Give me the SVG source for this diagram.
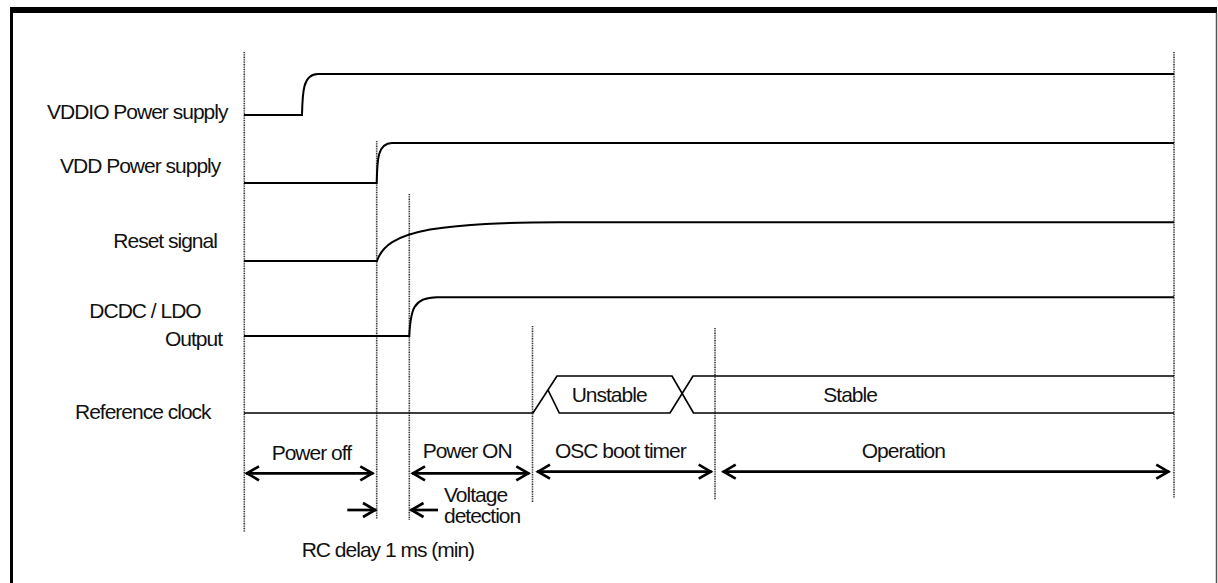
<svg xmlns="http://www.w3.org/2000/svg" width="1218" height="583" viewBox="0 0 1218 583">
<defs>
<marker id="ah" markerUnits="userSpaceOnUse" markerWidth="24" markerHeight="24" viewBox="-16 -12 20 24" refX="0" refY="0" orient="auto-start-reverse" overflow="visible">
<path d="M-13,-7 L-1,0 L-13,7" fill="none" stroke="#000" stroke-width="2.7" stroke-linejoin="miter"/>
</marker>
</defs>
<style>
text{font-family:"Liberation Sans",Arial,sans-serif;font-size:21px;letter-spacing:-1px;fill:#111}
.sig{fill:none;stroke:#000;stroke-width:2}
.clk{fill:none;stroke:#000;stroke-width:1.7}
.grid{stroke:#333;stroke-width:1.6;stroke-dasharray:1 0.7}
.arr{stroke:#000;stroke-width:2.7;fill:none}
</style>
<rect width="1218" height="583" fill="#fff"/>
<g id="frame">
<rect x="10" y="7" width="1207" height="6" fill="#000"/>
<rect x="10" y="7" width="3" height="576" fill="#000"/>
<line x1="1216.5" y1="13" x2="1216.5" y2="583" stroke="#555" stroke-width="1.5"/>
</g>
<g id="gridlines">
<line class="grid" x1="244.3" y1="52" x2="244.3" y2="532"/>
<line class="grid" x1="376.7" y1="141" x2="376.7" y2="519"/>
<line class="grid" x1="409.3" y1="194" x2="409.3" y2="520"/>
<line class="grid" x1="532.5" y1="326" x2="532.5" y2="502"/>
<line class="grid" x1="715" y1="328" x2="715" y2="500"/>
<line class="grid" x1="1174" y1="52" x2="1174" y2="498"/>
</g>
<g id="vddio">
<text x="47" y="119.3">VDDIO Power supply</text>
<path class="sig" d="M244,115 H302 C302.5,92 303,74 318,74 H1174"/>
</g>
<g id="vdd">
<text x="60" y="172.5">VDD Power supply</text>
<path class="sig" d="M244,183 H376.7 C377.2,160 377.5,143 392,143 H1174"/>
</g>
<g id="reset">
<text x="113.3" y="248.3">Reset signal</text>
<path class="sig" d="M244,261 H377 C382,246 395,236 430,229.5 C465,224 500,222.5 560,222.3 H1174"/>
</g>
<g id="dcdc">
<text x="89.3" y="318.3">DCDC / LDO</text>
<text x="165" y="345.7">Output</text>
<path class="sig" d="M244,336 H409.3 C410.5,310 413,297.5 437,297.3 H1174"/>
</g>
<g id="refclock">
<text x="75" y="419.3">Reference clock</text>
<path class="clk" d="M244,413 H533 L557,376 H672 L693.5,413 H1174"/>
<path class="clk" d="M548,390 L559.3,413 H670 L693,376 H1174"/>
<text x="571.7" y="401.7">Unstable</text>
<text x="823.3" y="402.3">Stable</text>
</g>
<g id="connectors">
<line class="arr" x1="246" y1="473.3" x2="373.3" y2="473.3" marker-start="url(#ah)" marker-end="url(#ah)"/>
<line class="arr" x1="412" y1="473.3" x2="529.3" y2="473.3" marker-start="url(#ah)" marker-end="url(#ah)"/>
<line class="arr" x1="537" y1="471.7" x2="711.7" y2="471.7" marker-start="url(#ah)" marker-end="url(#ah)"/>
<line class="arr" x1="722.7" y1="471.7" x2="1169.3" y2="471.7" marker-start="url(#ah)" marker-end="url(#ah)"/>
<line class="arr" x1="347.3" y1="510" x2="376" y2="510" marker-end="url(#ah)"/>
<line class="arr" x1="438" y1="510" x2="410.5" y2="510" marker-end="url(#ah)"/>
</g>
<g id="labels">
<text x="271.7" y="460">Power off</text>
<text x="422.7" y="458.3">Power ON</text>
<text x="555" y="458.3">OSC boot timer</text>
<text x="861.7" y="458">Operation</text>
<text x="444" y="502">Voltage</text>
<text x="444" y="522.7">detection</text>
<text x="301.7" y="556.7">RC delay 1 ms (min)</text>
</g>
</svg>
